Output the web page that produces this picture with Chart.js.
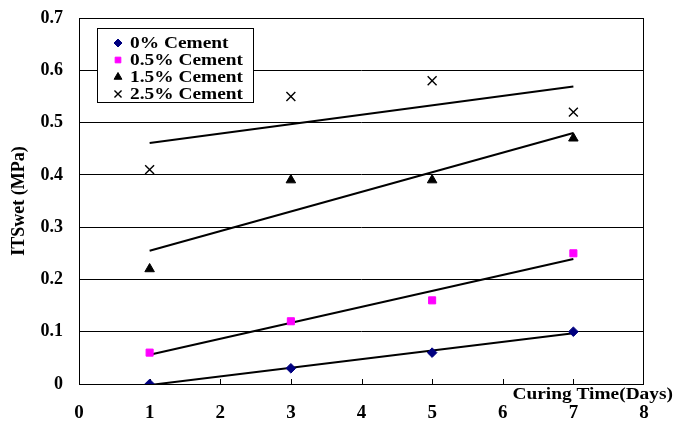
<!DOCTYPE html>
<html>
<head>
<meta charset="utf-8">
<script src="https://cdn.jsdelivr.net/npm/chart.js@4/dist/chart.umd.min.js"></script>
<style>
  html, body { margin: 0; padding: 0; background: #fff; }
  #wrap { width: 673px; height: 423px; position: relative; }
</style>
</head>
<body>
<div id="wrap"><canvas id="c" width="673" height="423"></canvas></div>
<script>
// Curing time (days) at which each mix was tested
const curingDays = [1, 3, 5, 7];

// Wet indirect tensile strength (MPa) per cement content
const cement0 = [0.00, 0.03, 0.06, 0.10];
const cement05 = [0.06, 0.12, 0.16, 0.25];
const cement15 = [0.22, 0.39, 0.39, 0.47];
const cement25 = [0.41, 0.55, 0.58, 0.52];

const seriesNames = ['0% Cement', '0.5% Cement', '1.5% Cement', '2.5% Cement'];

// Axis tick labels
const xTickLabels = ['0', '1', '2', '3', '4', '5', '6', '7', '8'];
const yTickLabels = ['0', '0.1', '0.2', '0.3', '0.4', '0.5', '0.6', '0.7'];

const xTitle = 'Curing Time(Days)';
const yTitle = 'ITSwet (MPa)';

const FONT = "'Liberation Serif', 'Times New Roman', serif";
const WIDE = 1.14; // horizontal stretch for the legend and x-axis title text

// Least-squares line through one series, evaluated at the first and last day
function trend(xs, ys) {
  const n = xs.length;
  const mx = xs.reduce((a, b) => a + b, 0) / n;
  const my = ys.reduce((a, b) => a + b, 0) / n;
  let sxy = 0, sxx = 0;
  for (let i = 0; i < n; i++) {
    sxy += (xs[i] - mx) * (ys[i] - my);
    sxx += (xs[i] - mx) * (xs[i] - mx);
  }
  const b = sxy / sxx, a = my - b * mx;
  const x0 = xs[0], x1 = xs[n - 1];
  return [{ x: x0, y: a + b * x0 }, { x: x1, y: a + b * x1 }];
}

const pts = ys => curingDays.map((d, i) => ({ x: d, y: ys[i] }));

const styles = [
  { pointStyle: 'rectRot', color: '#000080', radius: 4.8 },
  { pointStyle: 'rect', color: '#ff00ff', radius: 5 },
  { pointStyle: 'triangle', color: '#000000', radius: 5.5 },
  { pointStyle: 'crossRot', color: '#000000', radius: 6.3 }
];
const allSeries = [cement0, cement05, cement15, cement25];

const datasets = [];
allSeries.forEach((ys, i) => {
  datasets.push({
    label: seriesNames[i],
    data: pts(ys),
    showLine: false,
    pointStyle: styles[i].pointStyle,
    pointRadius: styles[i].radius,
    pointBackgroundColor: styles[i].color,
    pointBorderColor: styles[i].color,
    pointBorderWidth: styles[i].pointStyle === 'crossRot' ? 1.4 : 1,
    order: 1
  });
});
allSeries.forEach((ys, i) => {
  datasets.push({
    label: seriesNames[i] + ' trend',
    data: trend(curingDays, ys),
    showLine: true,
    borderColor: '#000',
    borderWidth: 2,
    pointRadius: 0,
    order: 2
  });
});

function wideText(ctx, text, x, y) {
  ctx.save();
  ctx.translate(x, y);
  ctx.scale(WIDE, 1);
  ctx.fillText(text, 0, 0);
  ctx.restore();
}

// Frame, inner tick marks, x-axis title and the boxed legend
const decorations = {
  id: 'decorations',
  beforeDatasetsDraw(chart) {
    const { ctx, chartArea: a, scales } = chart;
    ctx.save();
    ctx.strokeStyle = '#000';
    ctx.lineWidth = 1;
    ctx.strokeRect(a.left + 0.5, a.top + 0.5, a.right - a.left - 1, a.bottom - a.top);
    ctx.beginPath();
    for (let v = 1; v < xTickLabels.length - 1; v++) {
      const px = Math.round(scales.x.getPixelForValue(v)) + 0.5;
      ctx.moveTo(px, a.bottom);
      ctx.lineTo(px, a.bottom - 5);
    }
    ctx.stroke();
    ctx.restore();
  },
  afterDraw(chart) {
    const { ctx, chartArea: a } = chart;
    ctx.save();
    // x-axis title sits between the axis and its tick labels
    ctx.font = 'bold 17px ' + FONT;
    ctx.fillStyle = '#000';
    ctx.textAlign = 'right';
    ctx.textBaseline = 'alphabetic';
    wideText(ctx, xTitle, 673, a.bottom + 15);

    // legend
    const bx = 97, by = 28, bw = 156, bh = 74;
    ctx.fillStyle = '#fff';
    ctx.fillRect(bx, by, bw, bh);
    ctx.strokeStyle = '#000';
    ctx.lineWidth = 1;
    ctx.strokeRect(bx + 0.5, by + 0.5, bw, bh);
    ctx.font = 'bold 17px ' + FONT;
    ctx.textAlign = 'left';
    ctx.textBaseline = 'middle';
    const rows = [43, 60, 77, 94];
    for (let i = 0; i < 4; i++) {
      const ds = chart.data.datasets[i];
      const y = rows[i];
      const r = ds.pointStyle === 'crossRot' ? 5 : ds.pointStyle === 'triangle' ? 4.5 : 4;
      ctx.fillStyle = ds.pointBackgroundColor;
      ctx.strokeStyle = ds.pointBorderColor;
      ctx.lineWidth = ds.pointBorderWidth;
      Chart.helpers.drawPoint(ctx, { pointStyle: ds.pointStyle, radius: r, borderWidth: ds.pointBorderWidth }, 118, y);
      ctx.fillStyle = '#000';
      wideText(ctx, ds.label, 130, y + 1);
    }
    ctx.restore();
  }
};

new Chart(document.getElementById('c'), {
  type: 'scatter',
  data: { datasets },
  options: {
    responsive: false,
    animation: false,
    devicePixelRatio: 1,
    layout: { padding: { left: 0, top: 18, right: 29, bottom: 0 } },
    plugins: { legend: { display: false }, tooltip: { enabled: false } },
    scales: {
      x: {
        type: 'linear',
        min: 0, max: 8,
        border: { display: false },
        grid: { display: false },
        ticks: {
          stepSize: 1,
          padding: 10,
          color: '#000',
          font: { family: FONT, size: 19, weight: 'bold' },
          callback: (v, i) => xTickLabels[i]
        },
        afterFit: s => { s.height = 39; }
      },
      y: {
        type: 'linear',
        min: 0, max: 0.7,
        border: { display: false },
        grid: { color: '#000', lineWidth: 1, drawTicks: false },
        ticks: {
          stepSize: 0.1,
          padding: 16,
          color: '#000',
          font: { family: FONT, size: 18, weight: 'bold' },
          callback: (v, i) => yTickLabels[i]
        },
        title: {
          display: true,
          text: yTitle,
          color: '#000',
          padding: { top: 9, bottom: 0 },
          font: { family: FONT, size: 18, weight: 'bold' }
        },
        afterFit: s => { s.width = 79; s.paddingTop = 0; s.paddingBottom = 0; }
      }
    }
  },
  plugins: [decorations]
});
</script>
</body>
</html>
